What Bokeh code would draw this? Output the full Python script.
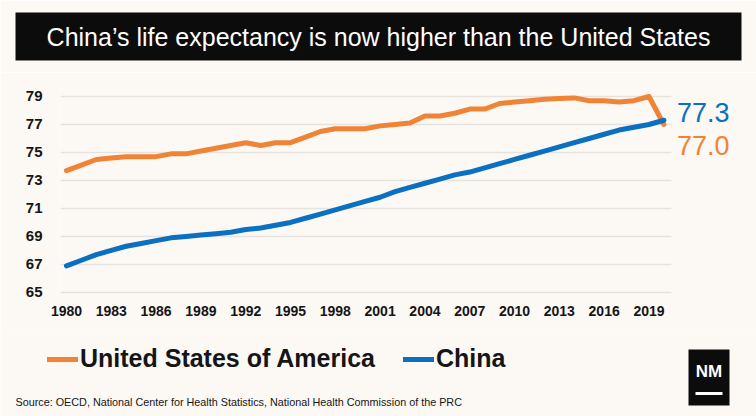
from bokeh.plotting import figure
from bokeh.layouts import column
from bokeh.models import (Label, BoxAnnotation, Legend, LegendItem, FixedTicker,
                          Range1d, ColumnDataSource)
from bokeh.embed import file_html
from bokeh.resources import INLINE

# ---- data ----
years = [1980, 1981, 1982, 1983, 1984, 1985, 1986, 1987, 1988, 1989,
         1990, 1991, 1992, 1993, 1994, 1995, 1996, 1997, 1998, 1999,
         2000, 2001, 2002, 2003, 2004, 2005, 2006, 2007, 2008, 2009,
         2010, 2011, 2012, 2013, 2014, 2015, 2016, 2017, 2018, 2019, 2020]
usa = [73.7, 74.1, 74.5, 74.6, 74.7, 74.7, 74.7, 74.9, 74.9, 75.1,
       75.3, 75.5, 75.7, 75.5, 75.7, 75.7, 76.1, 76.5, 76.7, 76.7,
       76.7, 76.9, 77.0, 77.1, 77.6, 77.6, 77.8, 78.1, 78.1, 78.5,
       78.6, 78.7, 78.8, 78.85, 78.9, 78.7, 78.7, 78.6, 78.7, 79.0, 77.0]
china = [66.9, 67.3, 67.7, 68.0, 68.3, 68.5, 68.7, 68.9, 69.0, 69.1,
         69.2, 69.3, 69.5, 69.6, 69.8, 70.0, 70.3, 70.6, 70.9, 71.2,
         71.5, 71.8, 72.2, 72.5, 72.8, 73.1, 73.4, 73.6, 73.9, 74.2,
         74.5, 74.8, 75.1, 75.4, 75.7, 76.0, 76.3, 76.6, 76.8, 77.0, 77.3]
x_ticks = [1980, 1983, 1986, 1989, 1992, 1995, 1998, 2001, 2004, 2007,
           2010, 2013, 2016, 2019]
y_ticks = [65, 67, 69, 71, 73, 75, 77, 79]
series_names = ["United States of America", "China"]
end_labels = ["77.3", "77.0"]
title_text = "China\u2019s life expectancy is now higher than the United States"
source_text = "Source: OECD, National Center for Health Statistics, National Health Commission of the PRC"

ORANGE = "#EF8336"
BLUE = "#0B6FC2"
BG = "#FCF8F4"
INK = "#151515"
FONT = "Liberation Sans"

X_START, X_GRID_END, X_END = 1979.6, 2020.5, 2026.2


def bare(fig):
    fig.background_fill_color = BG
    fig.border_fill_color = BG
    fig.outline_line_color = None
    fig.xgrid.grid_line_color = None
    fig.ygrid.grid_line_color = None


# ---- header ----
head = figure(width=756, height=72, output_backend="svg", toolbar_location=None,
              x_axis_type=None, y_axis_type=None, frame_align=False,
              x_range=Range1d(0, 1), y_range=Range1d(0, 1),
              min_border_left=15, min_border_right=15, min_border_top=12,
              min_border_bottom=12)
bare(head)
head.background_fill_color = "#0C0C0C"
head.add_layout(Label(x=363, y=24, x_units="screen", y_units="screen", text=title_text,
                      text_color="white", text_font=FONT, text_font_size="25px",
                      text_align="center", text_baseline="middle"))

# ---- main chart ----
p = figure(width=756, height=258, output_backend="svg", toolbar_location=None,
           frame_align=False,
           x_range=Range1d(X_START, X_END), y_range=Range1d(64.71, 79.57),
           min_border_left=60, min_border_right=0, min_border_top=16,
           min_border_bottom=34)
bare(p)

p.segment(x0=[X_START] * len(y_ticks), x1=[X_GRID_END] * len(y_ticks),
          y0=y_ticks, y1=y_ticks, line_color="#E6E2DE", line_width=1.5,
          level="underlay")

src = ColumnDataSource(dict(year=years, usa=usa, china=china))
p.line("year", "usa", source=src, line_color=ORANGE, line_width=5,
       line_cap="round", line_join="round")
p.line("year", "china", source=src, line_color=BLUE, line_width=5,
       line_cap="round", line_join="round")

p.xaxis.ticker = FixedTicker(ticks=x_ticks)
p.yaxis.ticker = FixedTicker(ticks=y_ticks)
for ax in (p.xaxis[0], p.yaxis[0]):
    ax.axis_line_color = None
    ax.major_tick_line_color = None
    ax.minor_tick_line_color = None
    ax.major_label_text_font = FONT
    ax.major_label_text_font_style = "bold"
    ax.major_label_text_color = INK
p.xaxis.major_label_text_font_size = "14px"
p.yaxis.major_label_text_font_size = "15px"
p.xaxis.major_label_standoff = 3
p.yaxis.major_label_standoff = 12

p.add_layout(Label(x=years[-1], y=china[-1], text=end_labels[0], x_offset=13, y_offset=8,
                   text_color=BLUE, text_font=FONT, text_font_size="27px",
                   text_baseline="middle"))
p.add_layout(Label(x=years[-1], y=usa[-1], text=end_labels[1], x_offset=13, y_offset=-21,
                   text_color=ORANGE, text_font=FONT, text_font_size="27px",
                   text_baseline="middle"))

# ---- footer: legend, source, logo ----
foot = figure(width=756, height=86, output_backend="svg", toolbar_location=None,
              x_axis_type=None, y_axis_type=None, frame_align=False,
              x_range=Range1d(0, 1), y_range=Range1d(0, 1),
              min_border_left=0, min_border_right=0, min_border_top=0,
              min_border_bottom=0)
bare(foot)
# legend swatches: same series, drawn outside this panel's visible range
f_us = foot.line(years, usa, line_color=ORANGE, line_width=5, line_cap="round")
f_cn = foot.line(years, china, line_color=BLUE, line_width=5, line_cap="round")
legend = Legend(items=[LegendItem(label=series_names[0], renderers=[f_us]),
                       LegendItem(label=series_names[1], renderers=[f_cn])],
                orientation="horizontal", location=(47, 43),
                background_fill_alpha=0, border_line_color=None,
                padding=0, margin=0, spacing=28, glyph_width=31, glyph_height=28,
                label_standoff=2, label_height=28,
                label_text_font=FONT, label_text_font_size="25px",
                label_text_font_style="bold", label_text_color=INK)
foot.add_layout(legend)

foot.add_layout(Label(x=15, y=15, x_units="screen", y_units="screen", text=source_text,
                      text_color=INK, text_font=FONT, text_font_size="10.8px",
                      text_baseline="middle"))

foot.add_layout(BoxAnnotation(left=688, right=729, top=67, bottom=11,
                              left_units="screen", right_units="screen",
                              top_units="screen", bottom_units="screen",
                              fill_color="#0C0C0C", fill_alpha=1, line_color=None))
foot.add_layout(Label(x=708.5, y=45, x_units="screen", y_units="screen", text="NM",
                      text_color="white", text_font=FONT, text_font_style="bold",
                      text_font_size="17px", text_align="center", text_baseline="middle"))
foot.add_layout(BoxAnnotation(left=695, right=722, top=24.5, bottom=21.5,
                              left_units="screen", right_units="screen",
                              top_units="screen", bottom_units="screen",
                              fill_color="white", fill_alpha=1, line_color=None))

layout = column(head, p, foot, spacing=0)
open("out.html", "w").write(file_html(layout, INLINE))
